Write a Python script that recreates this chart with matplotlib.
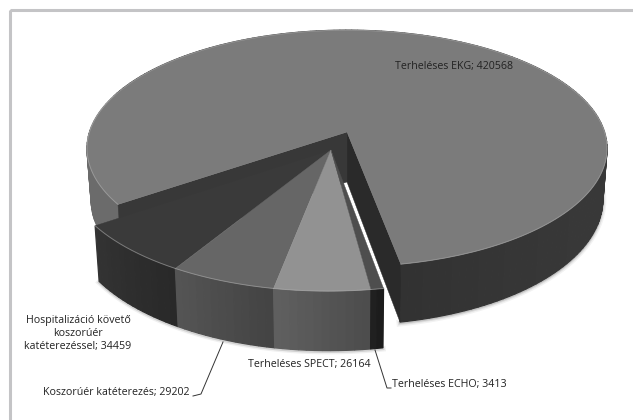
import numpy as np
import matplotlib
matplotlib.use("Agg")
import matplotlib.pyplot as plt
from matplotlib.colors import to_rgb
from matplotlib.patches import Rectangle

# vizsgálatok száma
categories = ["Terheléses EKG", "Hospitalizáció követő\nkoszorúér\nkatéterezéssel",
              "Koszorúér katéterezés", "Terheléses SPECT", "Terheléses ECHO"]
values = [420568, 34459, 29202, 26164, 3413]

top_colors = ["#7b7b7b", "#3a3a3a", "#666666", "#929292", "#4e4e4e"]
rim_colors = ["#333333", "#2e2e2e", "#4c4c4c", "#565656", "#1e1e1e"]

# perspective of the disc, in figure pixels
CX, CY = 347, 132
A, B = 257.5, 116
K = 0.139
DEPTH = 50
TAPER = 0.016          # base is a little narrower than the top
CUT_ANGLE = 10.4       # right edge of the first slice, degrees from the front
GROUP_OFFSET = (-0.061, 0.152)  # the small slices are pulled out together


def project(u, v, z=0.0):
    w = 1 - K * v
    return CX + A * u / w * (1 - TAPER * z), CY + (B * v + z * DEPTH) / w


def disc(angle, offset=(0, 0)):
    t = np.radians(angle)
    return offset[0] + np.sin(t), offset[1] + np.cos(t)


def rim(ax, a0, a1, offset, color, shade=None):
    # side wall split in small strips so it can be shaded along the arc
    steps = max(2, int(abs(a1 - a0) / 1.5))
    edges = np.linspace(a0, a1, steps + 1)
    for i in range(steps):
        u0, v0 = disc(edges[i], offset)
        u1, v1 = disc(edges[i + 1], offset)
        xs, ys = zip(project(u0, v0), project(u1, v1), project(u1, v1, 1), project(u0, v0, 1))
        f = (i + 0.5) / steps
        c = shade(edges[i]) if shade else np.clip(np.array(to_rgb(color)) * (1.12 - 0.24 * f), 0, 1)
        ax.fill(xs, ys, fc=c, ec=c, lw=0.9, zorder=3)


def wall(ax, angle, offset, color):
    u1, v1 = disc(angle, offset)
    xs, ys = zip(project(*offset), project(u1, v1), project(u1, v1, 1), project(*offset, 1))
    ax.fill(xs, ys, color=color, lw=0.3, zorder=3)


def top(ax, a0, a1, offset, color, zorder=5):
    arc = np.linspace(a0, a1, 200)
    pts = [project(*disc(a, offset)) for a in arc]
    ox, oy = project(*offset)
    xs = [ox] + [p[0] for p in pts]
    ys = [oy] + [p[1] for p in pts]
    ax.fill(xs, ys, color=color, lw=0.3, zorder=zorder)
    # light bevel along the outer edge
    ax.plot([p[0] for p in pts], [p[1] for p in pts], color="#b5b5b5", lw=0.7, alpha=0.55, zorder=zorder)


def ekg_shade(angle):
    # lit on the far left, dark towards the front right
    a = angle % 360
    g = 0.42 if a > 250 else 0.17 + 0.05 * np.cos(np.radians(a - 70))
    return (g, g, g)


def base_shadow(ax, a0, a1, offset, strokes):
    arc = np.linspace(a0, a1, 200)
    pts = [project(*disc(a, offset), 1) for a in arc]
    for lw, alpha in strokes:
        ax.plot([p[0] for p in pts], [p[1] + 1 for p in pts], color="k", lw=lw, alpha=alpha, zorder=2)


fig = plt.figure(figsize=(6.33, 4.2), dpi=100)
ax = fig.add_axes([0, 0, 1, 1])
ax.set_xlim(0, 633)
ax.set_ylim(420, 0)
ax.axis("off")
plt.rcParams["font.family"] = ["Open Sans", "DejaVu Sans"]

ax.add_patch(Rectangle((9.5, 9.5), 640, 430, fill=False, ec="#c4c4c6", lw=2.2, zorder=1))

sweeps = [v / sum(values) * 360 for v in values]

# big slice runs anticlockwise on screen from the cut at the front
ekg_start = CUT_ANGLE
ekg_end = ekg_start + sweeps[0]
no_offset = (0, 0)

base_shadow(ax, ekg_start, 95, no_offset, [(5, 0.05), (3, 0.08), (1.5, 0.12)])
rim(ax, ekg_start, ekg_end, no_offset, rim_colors[0], shade=ekg_shade)
wall(ax, ekg_start, no_offset, "#2a2a2a")
wall(ax, ekg_end, no_offset, "#383838")
top(ax, ekg_start, ekg_end, no_offset, top_colors[0])

# the four small slices, left to right
angle = ekg_end
group = []
for sweep in sweeps[1:]:
    group.append((angle, angle + sweep))
    angle += sweep

base_shadow(ax, group[0][0], group[-1][1], GROUP_OFFSET, [(4, 0.06), (2, 0.12)])
for (a0, a1), rc in zip(group, rim_colors[1:]):
    rim(ax, a0, a1, GROUP_OFFSET, rc)
for (a0, a1), tc in zip(group, top_colors[1:]):
    top(ax, a0, a1, GROUP_OFFSET, tc, zorder=6)

text_kw = dict(fontsize=7.7, color="#222222", ha="center", va="center", zorder=8)
ax.text(454, 67, f"{categories[0]}; {values[0]}", **text_kw)
ax.text(78, 334, f"{categories[1]}; {values[1]}", linespacing=1.25, **text_kw)
ax.text(116, 393, f"{categories[2]}; {values[2]}", **text_kw)
ax.text(309, 365, f"{categories[3]}; {values[3]}", **text_kw)
ax.text(449, 385, f"{categories[4]}; {values[4]}", **text_kw)

# leader lines
ax.plot([193, 201, 223], [396, 394, 342], color="#333333", lw=0.7, zorder=8)
ax.plot([375, 387, 391], [350, 388, 388], color="#333333", lw=0.7, zorder=8)

fig.savefig("out.png", dpi=100)
